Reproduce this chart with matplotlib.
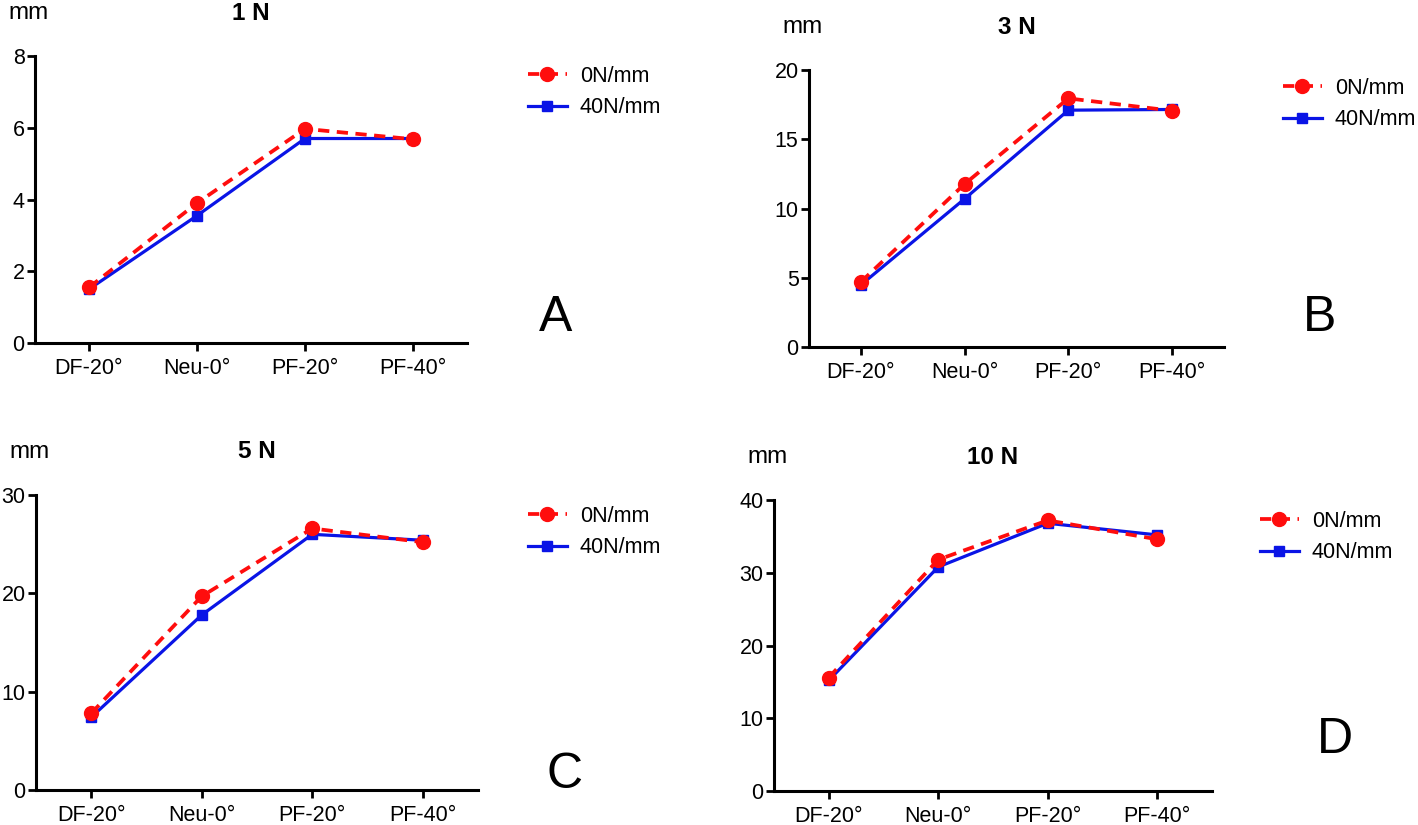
import numpy as np
import matplotlib.pyplot as plt

plt.rcParams["font.family"] = ["Liberation Sans", "DejaVu Sans"]

# categories and values (mm)
angles = ["DF-20°", "Neu-0°", "PF-20°", "PF-40°"]
series_names = ["0N/mm", "40N/mm"]

loads = ["1 N", "3 N", "5 N", "10 N"]
panel_letters = ["A", "B", "C", "D"]
y_max = [8, 20, 30, 40]
y_step = [2, 5, 10, 10]

free_1n = [1.55, 3.9, 5.97, 5.68]
stiff_1n = [1.5, 3.55, 5.7, 5.7]
free_3n = [4.7, 11.77, 17.95, 17.06]
stiff_3n = [4.48, 10.7, 17.1, 17.15]
free_5n = [7.8, 19.7, 26.6, 25.2]
stiff_5n = [7.4, 17.8, 26.0, 25.4]
free_10n = [15.6, 31.8, 37.2, 34.6]
stiff_10n = [15.2, 30.8, 36.8, 35.2]

free_all = [free_1n, free_3n, free_5n, free_10n]
stiff_all = [stiff_1n, stiff_3n, stiff_5n, stiff_10n]

W, H = 1418, 825
fig = plt.figure(figsize=(W / 100, H / 100), dpi=100)

# axes boxes in pixels: left, top, right, bottom
boxes = [(35, 56, 467, 343),
         (809, 70, 1224, 347),
         (36, 495, 478, 790),
         (774, 500, 1212, 791)]
# legend anchor (left x, centre y) in pixels
leg_pos = [(528, 92), (1283, 104), (528, 532), (1260, 537)]
# panel letter centres in pixels
letter_pos = [(556, 318), (1320, 318), (565, 775), (1335, 740)]

x = np.arange(len(angles))

for i in range(4):
    l, t, r, b = boxes[i]
    ax = fig.add_axes([l / W, 1 - b / H, (r - l) / W, (b - t) / H])

    ax.plot(x, stiff_all[i], color="#0a14e6", lw=2.3, marker="s", ms=6.5,
            label=series_names[1], zorder=3)
    ax.plot(x, free_all[i], color="#ff0d0d", lw=2.7, ls=(0, (3, 2)), marker="o",
            ms=10, label=series_names[0], zorder=4)

    ax.set_xlim(-0.5, 3.5)
    ax.set_ylim(0, y_max[i])
    ax.set_yticks(np.arange(0, y_max[i] + 1, y_step[i]))
    ax.set_xticks(x)
    ax.set_xticklabels(angles)
    ax.spines[["top", "right"]].set_visible(False)
    for s in ["left", "bottom"]:
        ax.spines[s].set_linewidth(2.2)
    ax.tick_params(axis="both", direction="out", length=6, width=2.0, labelsize=15.5)
    ax.tick_params(axis="x", pad=5)
    ax.tick_params(axis="y", pad=1.5)

    # unit label and title above the axes
    fig.text((l - 27) / W, 1 - (t - 43) / H, "mm", fontsize=17.5, ha="left", va="center")
    fig.text((l + r) / 2 / W, 1 - (t - 43) / H, loads[i], fontsize=17.5,
             fontweight="bold", ha="center", va="center")

    lx, ly = letter_pos[i]
    fig.text(lx / W, 1 - ly / H, panel_letters[i], fontsize=36, ha="center", va="center")

    handles, labels = ax.get_legend_handles_labels()
    px, py = leg_pos[i]
    ax.legend(handles[::-1], labels[::-1], loc="center left",
              bbox_to_anchor=(px / W, 1 - py / H), bbox_transform=fig.transFigure,
              frameon=False, fontsize=15.5, handlelength=1.8, handletextpad=0.6,
              labelspacing=0.5, borderpad=0, borderaxespad=0)

fig.savefig("out.png", dpi=100)
